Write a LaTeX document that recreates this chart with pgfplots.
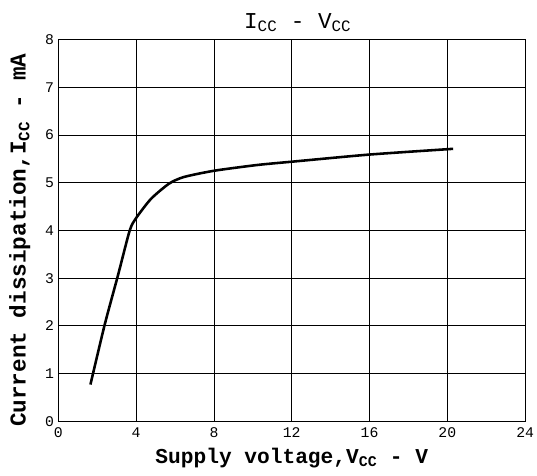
\documentclass[border=0pt]{standalone}
\usepackage{fontspec}
\setmainfont{Liberation Mono}
\usepackage{pgfplots}
\pgfplotsset{compat=1.18}
\begin{document}
\begin{tikzpicture}
\begin{axis}[
  scale only axis,
  width=472bp, height=386bp,
  xmin=0, xmax=24, ymin=0, ymax=8,
  xtick={0,4,...,24}, ytick={0,1,...,8},
  grid=major,
  grid style={black, line width=0.8pt},
  axis line style={black, line width=1.2pt},
  major tick length=0pt,
  /pgf/number format/assume math mode=true,
  ticklabel style={font=\fontsize{15}{17}\selectfont},
  xticklabel style={yshift=-3bp},
  yticklabel style={xshift=-1bp},
  title={I\textsubscript{CC} - V\textsubscript{CC}},
  title style={font=\fontsize{23}{25}\selectfont, at={(0.5,1)}, anchor=south, yshift=-2bp, xshift=6bp},
  xlabel={\bfseries Supply voltage,V\textsubscript{CC} - V},
  xlabel style={font=\fontsize{21.5}{23}\selectfont, yshift=-4bp},
  ylabel={\bfseries Current dissipation,I\textsubscript{CC} - mA},
  ylabel style={font=\fontsize{23}{25}\selectfont, xshift=-10bp, yshift=8bp},
]
\addplot[black, line width=2.6pt, smooth, tension=0.4] coordinates {
  (1.65,0.77) (2.38,2.02) (3.06,3.05) (3.67,4.0) (4.0,4.26)
  (4.76,4.66) (5.69,4.98) (6.46,5.12) (8,5.25) (10.2,5.37)
  (12,5.44) (16,5.59) (20.3,5.71)
};
\end{axis}
\pgfresetboundingbox
\useasboundingbox ([shift={(-59bp,-55bp)}]current axis.south west) rectangle ([shift={(12bp,40bp)}]current axis.north east);
\end{tikzpicture}
\end{document}
